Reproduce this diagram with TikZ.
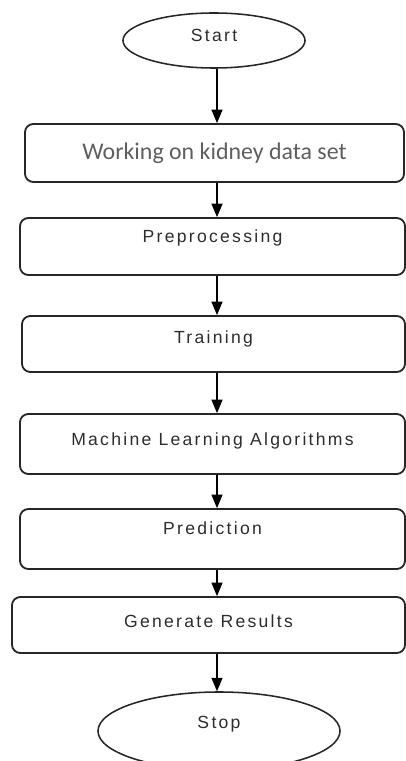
\documentclass[tikz,border=0pt]{standalone}
\usepackage{fontspec}
\setmainfont{Liberation Sans}
\newfontfamily\spacedfont[LetterSpace=13]{Liberation Sans}
\newfontfamily\calfont{Carlito}
\usetikzlibrary{arrows,shapes}
\definecolor{textgray}{HTML}{2C2C2C}
\definecolor{softgray}{HTML}{5E5E5E}
\tikzstyle{terminal}=[ellipse,draw=black!85,line width=1.1pt,inner sep=0pt,font=\spacedfont\fontsize{12.5}{14}\selectfont,text=textgray]
\tikzstyle{process}=[rectangle,rounded corners=6pt,draw=black!85,line width=1.3pt,inner sep=0pt,font=\spacedfont\fontsize{12.5}{14}\selectfont,text=textgray]
\tikzstyle{line} = [draw,line width=1.2pt,-triangle 45]

\begin{document}
\begin{tikzpicture}[x=0.025cm,y=-0.025cm]
    \useasboundingbox (0,0) rectangle (406,761);
    % x of the arrows
    \coordinate (axis) at (217,0);
    % Start and Stop
    \node[terminal,minimum width=4.55cm,minimum height=1.375cm,text height=0.3cm,text depth=0.225cm] (start) at (214,40.5) {Start};
    \node[terminal,minimum width=6.05cm,minimum height=1.95cm,text height=0.3cm,text depth=0.45cm] (stop) at (219,731) {Stop};
    % the steps
    \node[process,minimum width=9.475cm,minimum height=1.45cm,font=\calfont\fontsize{17}{20}\selectfont,text=softgray] (data) at (214.5,153) {Working on kidney data set};
    \foreach \name/\pos/\w/\h/\d/\txt in {{prep/(212.5,246.5)/9.625/0.625/0.8/Preprocessing}, {train/(213.5,344)/9.575/0.675/0.725/Training}, {ml/(212.5,444)/9.625/0.775/0.725/Machine Learning Algorithms}, {pred/(212.5,539)/9.625/0.625/0.875/Prediction}, {gen/(208.5,625)/9.825/0.75/0.65/Generate Results}}
        \node[process,minimum width=\w cm,text height=\h cm,text depth=\d cm] (\name) at \pos {\txt};
    % Connect the steps with arrows
    \foreach \source/\dest in {start/data, data/prep, prep/train, train/ml, ml/pred, pred/gen, gen/stop}
        \path[line] (\source.south -| axis) -- (\dest.north -| axis);
\end{tikzpicture}
\end{document}
